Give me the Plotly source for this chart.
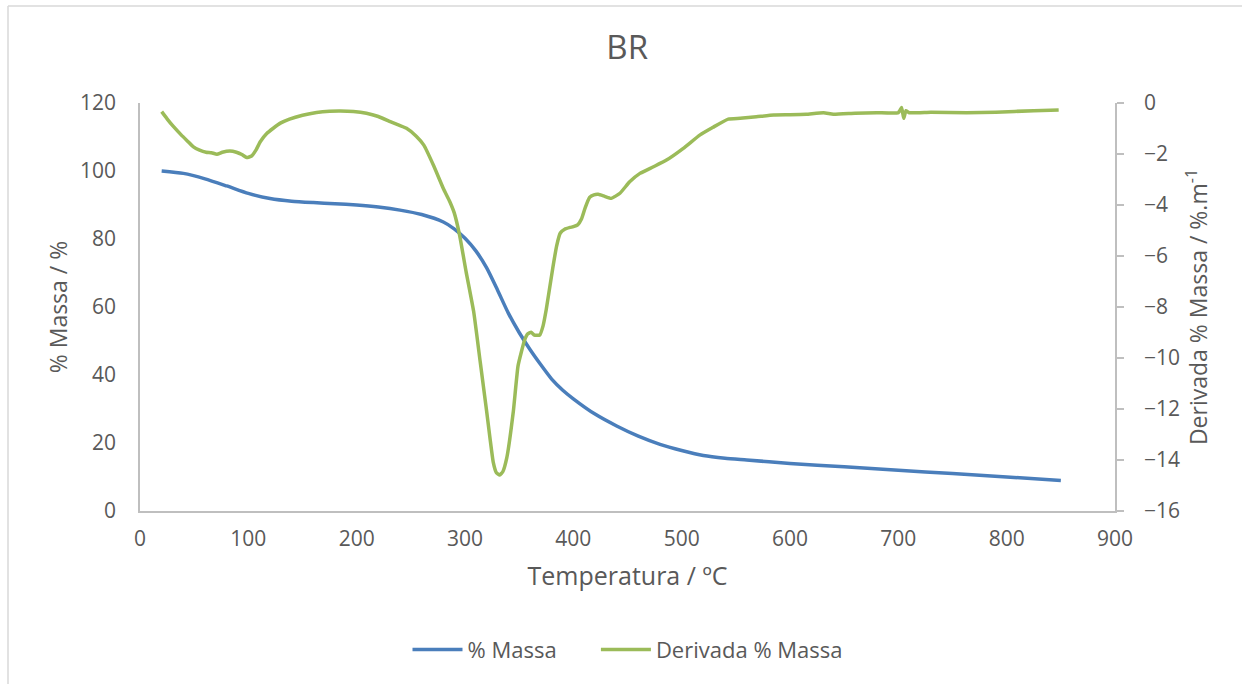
import plotly.graph_objects as go

# Temperature (ºC) and % mass
temp_mass = [20, 40, 60, 80, 100, 120, 140, 160, 180, 200, 220, 240, 260, 280, 290, 300,
             310, 320, 330, 340, 350, 360, 370, 380, 390, 400, 420, 440, 460, 480, 500,
             520, 540, 560, 600, 650, 700, 750, 800, 850]
mass = [100, 99.3, 97.7, 95.6, 93.4, 91.9, 91.1, 90.7, 90.4, 90.0, 89.4, 88.5, 87.2, 85.0,
        83.0, 80.2, 76.5, 71.5, 65.0, 58.2, 52.5, 47.5, 43.0, 38.8, 35.6, 33.0, 28.5, 25.0,
        22.0, 19.6, 17.8, 16.3, 15.5, 15.0, 14.0, 13.0, 12.0, 11.0, 10.0, 9.0]

# Temperature (ºC) and derivative of % mass
temp_deriv = [20, 25, 31, 38, 44, 49, 55, 61, 66, 71, 76, 83, 89, 94, 98.5, 103, 107, 111, 117,
              123, 130, 138, 150, 163, 175, 185, 197, 209, 220, 231, 239, 246, 255, 262, 271,
              280, 286, 290, 295, 301, 308, 314, 320, 326, 329, 332, 335, 338.5, 344.6, 349,
              355, 358, 361, 364, 369, 372, 375, 381, 384.6, 388, 392, 397, 400, 404, 407.5,
              411, 415, 419, 423, 429, 435, 443, 452, 461.5, 474, 486, 501.5, 517, 529, 543,
              554, 569, 585, 600, 615, 631, 640, 660, 680, 700, 703, 705, 707, 710, 730, 763,
              790, 825, 848]
deriv = [-0.34, -0.62, -0.93, -1.25, -1.5, -1.71, -1.85, -1.93, -1.95, -2.01, -1.93, -1.88,
         -1.93, -2.02, -2.14, -2.08, -1.85, -1.52, -1.2, -0.99, -0.78, -0.63, -0.48, -0.37,
         -0.32, -0.31, -0.33, -0.4, -0.53, -0.73, -0.87, -0.99, -1.3, -1.65, -2.45, -3.35,
         -3.87, -4.3, -5.18, -6.61, -8.18, -10.14, -12.1, -14.07, -14.5, -14.59, -14.45,
         -13.93, -12.1, -10.3, -9.3, -9.05, -8.99, -9.1, -9.1, -8.75, -8.1, -6.48, -5.6, -5.1,
         -4.95, -4.88, -4.85, -4.78, -4.55, -4.1, -3.7, -3.6, -3.58, -3.66, -3.74, -3.54,
         -3.09, -2.76, -2.5, -2.24, -1.78, -1.25, -0.95, -0.63, -0.6, -0.54, -0.47, -0.46,
         -0.44, -0.38, -0.44, -0.4, -0.38, -0.38, -0.18, -0.6, -0.3, -0.38, -0.36, -0.38,
         -0.36, -0.3, -0.27]

x_ticks = [0, 100, 200, 300, 400, 500, 600, 700, 800, 900]
y_left_ticks = [0, 20, 40, 60, 80, 100, 120]
y_right_ticks = [0, -2, -4, -6, -8, -10, -12, -14, -16]

FONT = "Open Sans"
TXT = "#595959"
AX = "#BFBFBF"

fig = go.Figure()
fig.add_trace(go.Scatter(x=temp_mass, y=mass, name="% Massa&nbsp;&nbsp;&nbsp;&nbsp;&nbsp;&nbsp;",
                         mode="lines",
                         line=dict(color="#4A7EBB", width=3.5, shape="spline", smoothing=0.6)))
fig.add_trace(go.Scatter(x=temp_deriv, y=deriv, name="Derivada % Massa", mode="lines",
                         yaxis="y2",
                         line=dict(color="#9BBB59", width=3.5, shape="spline", smoothing=0.4)))

fig.update_layout(
    width=1242, height=684,
    margin=dict(l=140, r=127, t=103, b=173),
    paper_bgcolor="white", plot_bgcolor="white",
    font=dict(family=FONT, color=TXT, size=21),
    title=dict(text="BR", x=0.505, xanchor="center", y=0.93, yanchor="middle",
               font=dict(size=33, color=TXT, family=FONT)),
    xaxis=dict(range=[0, 900], tickvals=x_ticks, showgrid=False, zeroline=False,
               showline=True, linecolor=AX, linewidth=1.5, ticks="",
               ticklabelstandoff=8, tickfont=dict(size=21),
               title=dict(text="Temperatura / ºC", font=dict(size=25), standoff=17)),
    yaxis=dict(range=[0, 120], tickvals=y_left_ticks, showgrid=False, zeroline=False,
               showline=True, linecolor=AX, linewidth=1.5, ticks="",
               ticklabelstandoff=18, tickfont=dict(size=21),
               title=dict(text="% Massa / %", font=dict(size=23), standoff=6)),
    yaxis2=dict(range=[-16, 0], tickvals=y_right_ticks, overlaying="y", side="right",
                showgrid=False, zeroline=False, showline=True, linecolor=AX, linewidth=1.5,
                ticks="outside", ticklen=7, tickcolor=AX, tickwidth=1.5,
                ticklabelstandoff=16, tickfont=dict(size=21),
                title=dict(text="Derivada % Massa / %.m<sup>-1</sup>", font=dict(size=23),
                           standoff=11)),
    legend=dict(orientation="h", x=0.5, xanchor="center", y=-0.34, yanchor="middle",
                font=dict(size=22), itemwidth=50, tracegroupgap=0),
    showlegend=True,
)

# outer chart border (top and left edges visible)
fig.add_shape(type="line", xref="paper", yref="paper",
              x0=-132 / 975, x1=1.2, y0=505 / 408, y1=505 / 408,
              line=dict(color="#D9D9D9", width=1.5))
fig.add_shape(type="line", xref="paper", yref="paper",
              x0=-132 / 975, x1=-132 / 975, y0=505 / 408, y1=-0.5,
              line=dict(color="#D9D9D9", width=1.5))

fig.write_html("out.html")
